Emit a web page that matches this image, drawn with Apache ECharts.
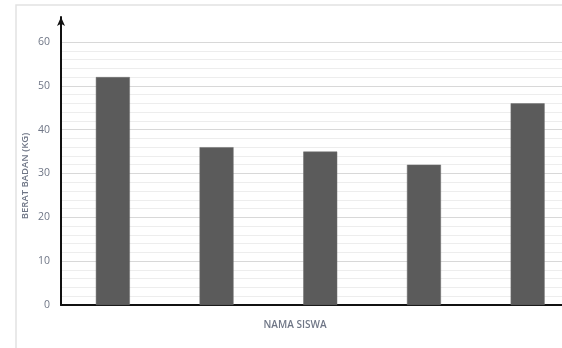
<!DOCTYPE html>
<html>
<head>
<meta charset="utf-8">
<title>Berat Badan Siswa</title>
<script src="https://cdn.jsdelivr.net/npm/echarts@6/dist/echarts.min.js"></script>
<style>
  html, body { margin: 0; padding: 0; background: #ffffff; }
  #chart { width: 562px; height: 348px; }
</style>
</head>
<body>
<div id="chart"></div>
<script>
// Student names (not printed on the axis) and their body weight in kg
const students = ['Siswa 1', 'Siswa 2', 'Siswa 3', 'Siswa 4', 'Siswa 5'];
const weights = [52, 36, 35, 32, 46];
const yTicks = [0, 10, 20, 30, 40, 50, 60];

const xTitle = 'NAMA SISWA';
const yTitle = 'BERAT BADAN (KG)';

const textColor = '#6f7686';
const font = 'Open Sans';

const chart = echarts.init(document.getElementById('chart'), null, { renderer: 'canvas' });

// the plot runs past the right edge of the page
const plotWidth = 518.5;

chart.setOption({
  backgroundColor: '#ffffff',
  animation: false,
  grid: [
    // plot area
    { left: 61, width: plotWidth, top: 42, bottom: 43, containLabel: false, outerBoundsMode: 'none' },
    // taller frame that only carries the arrowed vertical axis line
    { left: 61, width: plotWidth, top: 17, bottom: 43, containLabel: false, outerBoundsMode: 'none' }
  ],
  xAxis: [
    {
      type: 'category',
      gridIndex: 0,
      data: students,
      axisLine: { show: true, lineStyle: { color: '#111111', width: 2 } },
      axisTick: { show: false },
      axisLabel: { show: false }
    },
    {
      type: 'category',
      gridIndex: 1,
      data: students,
      show: false
    }
  ],
  yAxis: [
    {
      type: 'value',
      gridIndex: 0,
      min: yTicks[0],
      max: yTicks[yTicks.length - 1],
      interval: 10,
      axisLine: { show: false },
      axisTick: { show: false },
      axisLabel: {
        color: textColor,
        fontFamily: font,
        fontSize: 10.5,
        margin: 11
      },
      splitLine: { show: true, lineStyle: { color: '#d8d8d8', width: 1 } },
      minorTick: { show: false, splitNumber: 5 },
      minorSplitLine: { show: true, lineStyle: { color: '#ededed', width: 1 } }
    },
    {
      type: 'value',
      gridIndex: 1,
      min: 0,
      max: 1,
      axisLine: {
        show: true,
        symbol: ['none', 'arrow'],
        symbolSize: [6, 9],
        lineStyle: { color: '#111111', width: 2 }
      },
      axisTick: { show: false },
      axisLabel: { show: false },
      splitLine: { show: false }
    }
  ],
  series: [
    {
      type: 'bar',
      xAxisIndex: 0,
      yAxisIndex: 0,
      data: weights,
      barWidth: 34,
      itemStyle: { color: '#5b5b5b', borderColor: '#6e6e6e', borderWidth: 0.5 },
      z: 3
    }
  ],
  graphic: [
    {
      type: 'rect',
      silent: true,
      shape: { x: 16, y: 5, width: 600, height: 400 },
      style: { fill: 'none', stroke: '#e2e2e2', lineWidth: 1.5 },
      z: -10
    },
    {
      type: 'text',
      x: 295,
      y: 325,
      style: {
        text: xTitle,
        fill: textColor,
        font: '600 10px "' + font + '"',
        align: 'center',
        verticalAlign: 'middle'
      }
    },
    {
      type: 'text',
      x: 25,
      y: 176,
      rotation: Math.PI / 2,
      style: {
        text: yTitle,
        fill: textColor,
        font: '600 9.5px "' + font + '"',
        align: 'center',
        verticalAlign: 'middle'
      }
    }
  ]
});
</script>
</body>
</html>
